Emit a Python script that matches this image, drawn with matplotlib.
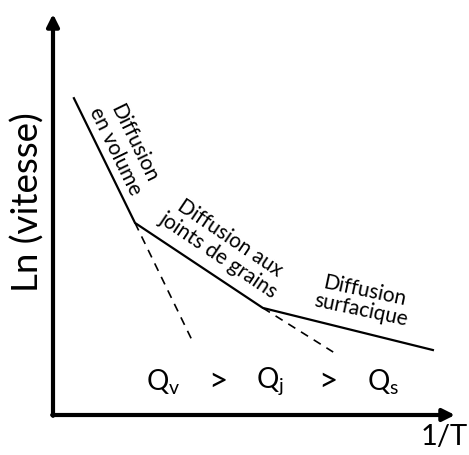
import numpy as np
import matplotlib.pyplot as plt

plt.rcParams['font.family'] = ['Lato', 'DejaVu Sans']

# schematic: ln(rate) vs 1/T, three diffusion regimes
inv_T = [0.52, 2.04, 5.22, 9.45]
ln_rate = [7.90, 4.79, 2.67, 1.62]

# extrapolations of the two steeper regimes
ext_vol_x = [2.04, 3.48]
ext_vol_y = [4.79, 1.82]
ext_gb_x = [5.22, 6.97]
ext_gb_y = [2.67, 1.57]

regime_labels = ["Diffusion\nen volume", "Diffusion aux\njoints de grains", "Diffusion\nsurfacique"]
regime_pos = [(1.78, 6.68), (4.27, 4.20), (7.71, 2.86)]
regime_rot = [-64, -34, -12]

q_labels = [r"Q$_\mathregular{v}$", ">", r"Q$_\mathregular{j}$", ">", r"Q$_\mathregular{s}$"]
q_size = [20, 24, 20, 24, 20]
q_x = [2.74, 4.10, 5.40, 6.84, 8.21]
q_y = 0.82

fig = plt.figure(figsize=(4.69, 4.55), dpi=100)
ax = fig.add_axes([53/469, 40/455, 402/469, 401/455])
ax.set_xlim(0, 10)
ax.set_ylim(0, 10)
ax.axis("off")

# axes as arrows
arrow = dict(arrowstyle="-|>", lw=3, color="black", mutation_scale=18, shrinkA=0, shrinkB=0)
ax.annotate("", xy=(10, 0), xytext=(-0.02, 0), arrowprops=arrow, annotation_clip=False)
ax.annotate("", xy=(0, 10), xytext=(0, -0.02), arrowprops=arrow, annotation_clip=False)

ax.plot(inv_T, ln_rate, color="black", lw=1.6, clip_on=False)
ax.plot(ext_vol_x, ext_vol_y, color="black", lw=1.2, ls=(0, (5, 4)))
ax.plot(ext_gb_x, ext_gb_y, color="black", lw=1.2, ls=(0, (5, 4)))

for lab, (x, y), r in zip(regime_labels, regime_pos, regime_rot):
    ax.text(x, y, lab, rotation=r, rotation_mode="anchor", ha="center", va="center",
            fontsize=15, linespacing=1.0)

for lab, x, s in zip(q_labels, q_x, q_size):
    ax.text(x, q_y, lab, ha="center", va="center", fontsize=s)

ax.text(10.32, -0.55, "1/T", ha="right", va="center", fontsize=21, clip_on=False)
ax.text(-0.64, 5.30, "Ln (vitesse)", rotation=90, ha="center", va="center", fontsize=26.5, clip_on=False)

plt.savefig("out.png")
